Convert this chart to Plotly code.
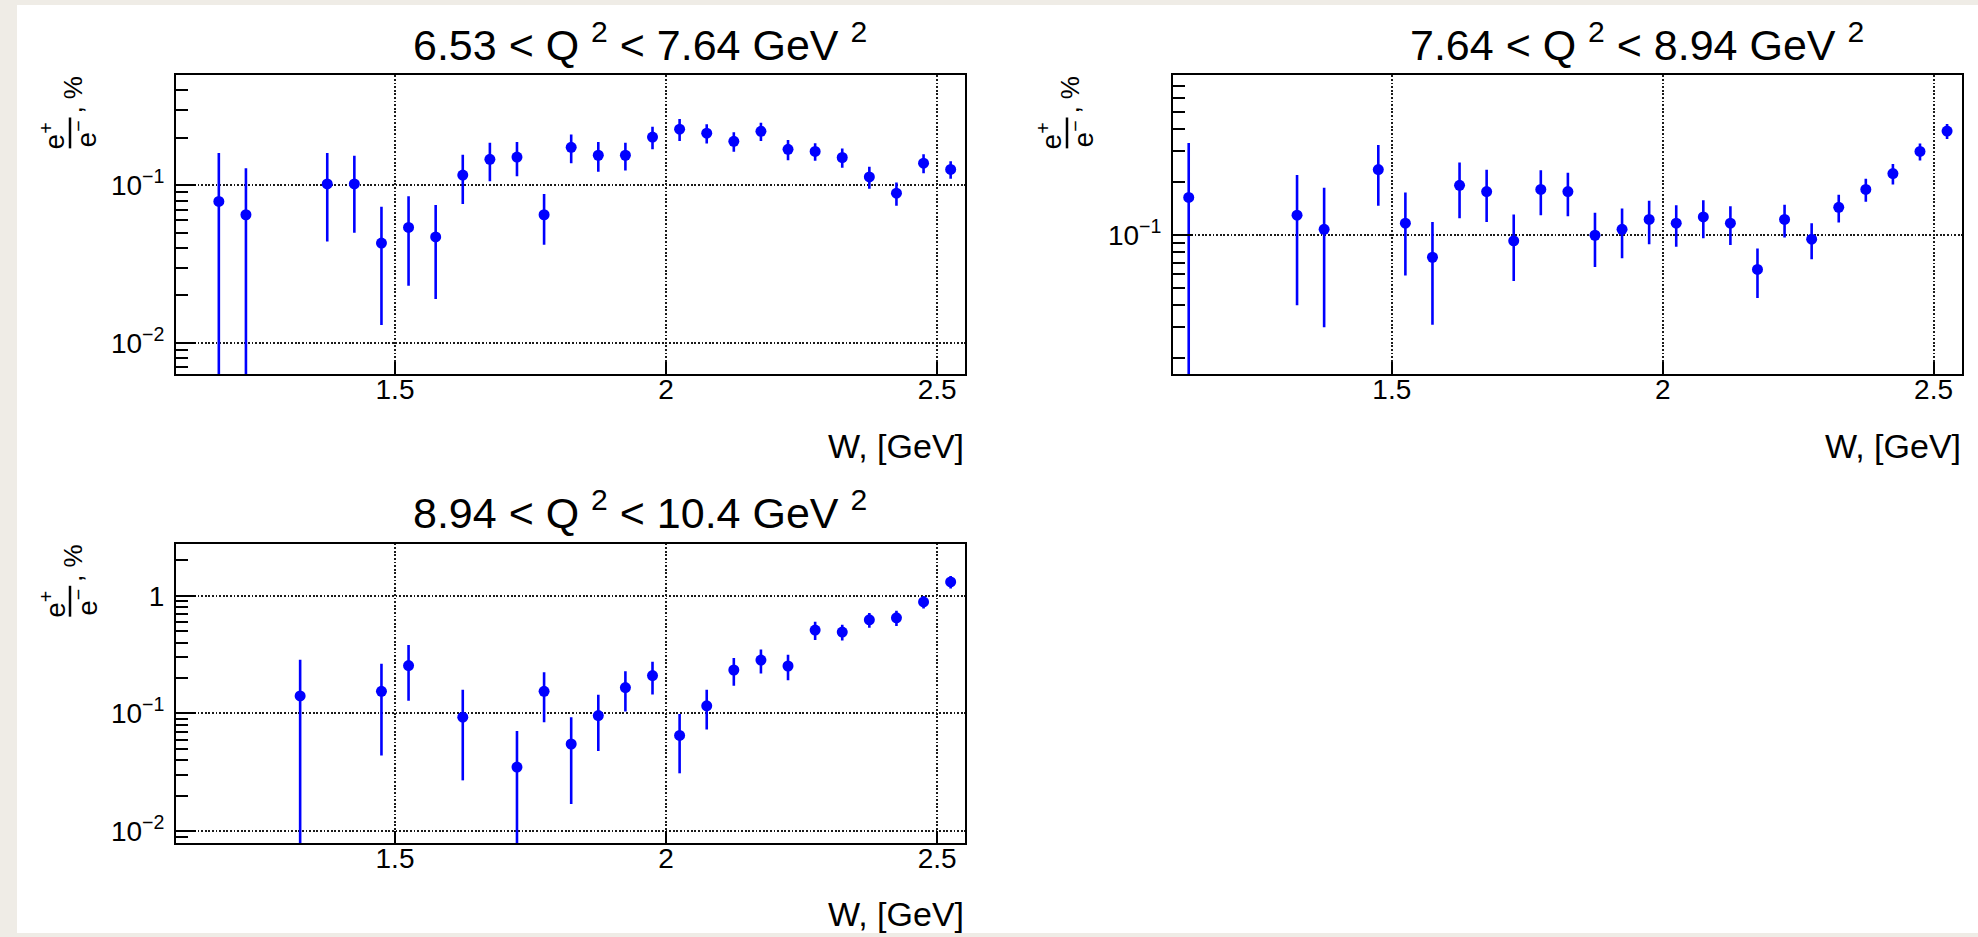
import plotly.graph_objects as go

# ---- data: e+/e- ratio (%) versus W in three Q^2 bins ----
W1 = [1.175, 1.225, 1.375, 1.425, 1.475, 1.525, 1.575, 1.625, 1.675, 1.725, 1.775, 1.825, 1.875,
      1.925, 1.975, 2.025, 2.075, 2.125, 2.175, 2.225, 2.275, 2.325, 2.375, 2.425, 2.475, 2.525]
R1 = [0.079, 0.065, 0.102, 0.102, 0.043, 0.054, 0.047, 0.116, 0.146, 0.151, 0.065, 0.174, 0.155,
      0.155, 0.202, 0.227, 0.214, 0.190, 0.220, 0.169, 0.164, 0.150, 0.113, 0.089, 0.138, 0.126]
E1 = [0.081, 0.063, 0.058, 0.052, 0.030, 0.031, 0.028, 0.040, 0.040, 0.037, 0.023, 0.036, 0.033,
      0.031, 0.033, 0.036, 0.030, 0.027, 0.029, 0.025, 0.021, 0.021, 0.018, 0.015, 0.019, 0.016]

W2 = [1.125, 1.325, 1.375, 1.475, 1.525, 1.575, 1.625, 1.675, 1.725, 1.775, 1.825, 1.875, 1.925,
      1.975, 2.025, 2.075, 2.125, 2.175, 2.225, 2.275, 2.325, 2.375, 2.425, 2.475, 2.525]
R2 = [0.164, 0.130, 0.108, 0.236, 0.117, 0.075, 0.192, 0.177, 0.093, 0.182, 0.177, 0.100, 0.108,
      0.123, 0.117, 0.127, 0.117, 0.064, 0.123, 0.095, 0.144, 0.182, 0.224, 0.299, 0.390]
E2 = [0.170, 0.090, 0.078, 0.089, 0.058, 0.044, 0.067, 0.058, 0.038, 0.052, 0.049, 0.034, 0.034,
      0.034, 0.031, 0.031, 0.029, 0.020, 0.026, 0.022, 0.026, 0.027, 0.030, 0.033, 0.038]

W3 = [1.325, 1.475, 1.525, 1.625, 1.725, 1.775, 1.825, 1.875, 1.925, 1.975, 2.025, 2.075, 2.125,
      2.175, 2.225, 2.275, 2.325, 2.375, 2.425, 2.475, 2.525]
R3 = [0.141, 0.154, 0.255, 0.093, 0.035, 0.154, 0.055, 0.096, 0.166, 0.210, 0.065, 0.116, 0.234,
      0.284, 0.253, 0.511, 0.491, 0.625, 0.649, 0.887, 1.310]
E3 = [0.145, 0.110, 0.127, 0.066, 0.036, 0.070, 0.038, 0.048, 0.062, 0.065, 0.034, 0.043, 0.062,
      0.065, 0.062, 0.090, 0.075, 0.090, 0.097, 0.106, 0.160]

TITLES = ["6.53 &lt; Q <sup>2</sup> &lt; 7.64 GeV <sup>2</sup>",
          "7.64 &lt; Q <sup>2</sup> &lt; 8.94 GeV <sup>2</sup>",
          "8.94 &lt; Q <sup>2</sup> &lt; 10.4 GeV <sup>2</sup>"]
X_TITLE = "W, [GeV]"
X_TICKS = [1.5, 2.0, 2.5]
X_TICK_TEXT = ["1.5", "2", "2.5"]
Y_TICKS = [0.01, 0.1, 1.0]
Y_TICK_TEXT = ["10<sup>\u22122</sup>", "10<sup>\u22121</sup>", "1"]

# ---- page geometry (pixels) ----
WIDTH, HEIGHT = 1978, 937
FONT = "Liberation Sans, Arial, Helvetica, sans-serif"
BLUE = "#0000ff"


def px(x):
    return x / WIDTH


def py(y):
    return 1 - y / HEIGHT


# frame boxes: (left, top, right, bottom) in pixels, log10 y-range, title centre x
PANELS = [
    dict(box=(176, 75.7, 965.3, 376.0), yr=[-2.2, -0.303], tx=640, data=(W1, R1, E1)),
    dict(box=(1173, 75.7, 1961.7, 376.0), yr=[-1.79, -0.0925], tx=1637, data=(W2, R2, E2)),
    dict(box=(176, 546.0, 965.3, 846.7), yr=[-2.1015, 0.4425], tx=640, data=(W3, R3, E3)),
]
X_RANGE = [1.096, 2.552]

minor_vals = [m * 10.0 ** e for e in range(-3, 1) for m in range(2, 10)]

fig = go.Figure()
annotations = []
shapes = [dict(type="rect", xref="paper", yref="paper", x0=px(17), x1=1, y0=0, y1=py(5),
               fillcolor="white", line=dict(width=0), layer="below")]

for i, p in enumerate(PANELS):
    n = "" if i == 0 else str(i + 1)
    L, T, R, B = p["box"]
    w, r, e = p["data"]
    # lower error bars that reach zero run off the bottom of the log axis
    lo = [min(ei, 0.999 * ri) for ri, ei in zip(r, e)]
    fig.add_trace(go.Scatter(
        x=w, y=r, mode="markers", xaxis="x" + n, yaxis="y" + n,
        marker=dict(color=BLUE, size=11, line=dict(width=0)),
        error_y=dict(type="data", symmetric=False, array=e, arrayminus=lo,
                     color=BLUE, thickness=2.6, width=0),
        showlegend=False, hoverinfo="x+y"))

    common = dict(showline=True, linecolor="black", linewidth=2, mirror=True,
                  showgrid=True, gridcolor="#1a1a1a", gridwidth=1.8, griddash="1.8px,1.8px",
                  zeroline=False, ticks="inside", tickcolor="black", tickwidth=2,
                  tickfont=dict(family=FONT, size=28, color="black"))
    fig.update_layout(**{
        "xaxis" + n: dict(common, domain=[px(L), px(R)], range=X_RANGE, anchor="y" + n,
                          tickmode="array", tickvals=X_TICKS, ticktext=X_TICK_TEXT,
                          ticklen=12, ticklabelstandoff=-11),
        "yaxis" + n: dict(common, domain=[py(B), py(T)], range=p["yr"], type="log",
                          anchor="x" + n, tickmode="array", tickvals=Y_TICKS,
                          ticktext=Y_TICK_TEXT, ticklen=20, ticklabelstandoff=4,
                          minor=dict(tickmode="array", tickvals=minor_vals, ticks="inside",
                                     ticklen=12, tickwidth=2, tickcolor="black",
                                     showgrid=False)),
    })

    dx, dy = L - 176, T - 75.7
    # panel title
    annotations.append(dict(text=TITLES[i], x=px(p["tx"]), y=py(42 + dy), xref="paper",
                            yref="paper", showarrow=False, xanchor="center", yanchor="middle",
                            font=dict(family=FONT, size=43, color="black")))
    # x-axis title, right aligned with the frame
    annotations.append(dict(text=X_TITLE, x=px(R + 1), y=py(448 + dy), xref="paper",
                            yref="paper", showarrow=False, xanchor="right", yanchor="middle",
                            font=dict(family=FONT, size=34, color="black")))
    # y-axis title: e+ over e-, followed by ", %", written upwards
    yfont = dict(family=FONT, size=28, color="black")
    annotations.append(dict(text="e<sup>+</sup>", textangle=-90, x=px(53 + dx), y=py(137 + dy),
                            xref="paper", yref="paper", showarrow=False,
                            xanchor="center", yanchor="middle", font=yfont))
    annotations.append(dict(text="e<sup>\u2212</sup>", textangle=-90, x=px(85 + dx),
                            y=py(135 + dy), xref="paper", yref="paper", showarrow=False,
                            xanchor="center", yanchor="middle", font=yfont))
    annotations.append(dict(text=", %", textangle=-90, x=px(73 + dx), y=py(95 + dy),
                            xref="paper", yref="paper", showarrow=False,
                            xanchor="center", yanchor="middle",
                            font=dict(family=FONT, size=26, color="black")))
    shapes.append(dict(type="line", xref="paper", yref="paper", x0=px(70 + dx), x1=px(70 + dx),
                       y0=py(149 + dy), y1=py(118 + dy), line=dict(color="black", width=2.5)))

fig.update_layout(width=WIDTH, height=HEIGHT, margin=dict(l=0, r=0, t=0, b=0),
                  paper_bgcolor="#efece6", plot_bgcolor="white",
                  annotations=annotations, shapes=shapes,
                  font=dict(family=FONT, color="black"))

fig.write_html("out.html")
